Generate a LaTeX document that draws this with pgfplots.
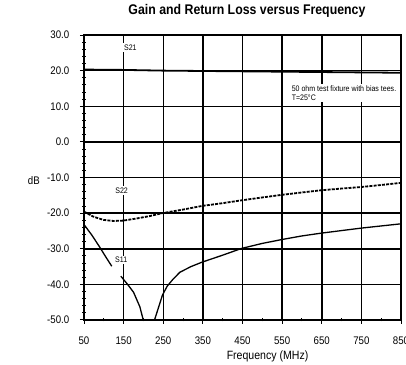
\documentclass[border=0pt]{standalone}
\usepackage{fontspec}
\setmainfont{Liberation Sans}[FakeStretch=0.88]
\usepackage{pgfplots}
\pgfplotsset{compat=1.18}
\begin{document}
\begin{tikzpicture}
\useasboundingbox (0,0) rectangle (406bp,365bp);
\begin{axis}[
 at={(84bp,45bp)}, anchor=south west,
 scale only axis, width=317bp, height=285bp,
 xmin=50, xmax=850, ymin=-50, ymax=30,
 xtick={50,150,...,850}, minor xtick={100,200,...,800},
 xticklabels={50,150,250,350,450,550,650,750,850},
 ytick={-50,-40,...,30},
 yticklabels={-50.0,-40.0,-30.0,-20.0,-10.0,0.0,10.0,20.0,30.0},
 minor y tick num=4,
 tick pos=left,
 tick align=center, major tick length=8bp, minor tick length=3bp,
 every tick/.style={black, line width=1bp},
 axis line style={line width=1.5bp},
 grid=major, major grid style={black, line width=1.5bp},
 tick label style={font=\fontsize{11bp}{13bp}\selectfont},
 xticklabel style={anchor=base, yshift=-20bp},
 yticklabel style={anchor=east, inner sep=0pt, xshift=-10.5bp},
 title={Gain and Return Loss versus Frequency},
 title style={at={(rel axis cs:0.514,1)}, anchor=base, yshift=14.3bp, font=\bfseries\fontsize{14bp}{16bp}\selectfont},
 xlabel={Frequency (MHz)},
 xlabel style={at={(rel axis cs:0.579,0)}, anchor=base, yshift=-39bp, font=\fontsize{12bp}{14bp}\selectfont},
 ylabel={dB},
 every axis y label/.style={at={(rel axis cs:-0.158,0.491)}, anchor=center, font=\fontsize{11bp}{13bp}\selectfont},
]
% S21
\addplot[black, line width=1.8bp] coordinates {
 (50,20.3) (150,20.2) (250,20.0) (350,19.9) (450,19.8) (550,19.7) (650,19.6) (750,19.5) (850,19.4)};
% S22
\addplot[black, line width=1.8bp, dash pattern=on 3bp off 1.2bp] coordinates {
 (50,-19.6) (74,-21.0) (99,-21.9) (124,-22.2) (149,-22.1) (183,-21.5) (217,-20.8) (248,-20.0)
 (300,-19.0) (347,-18.0) (400,-17.2) (448,-16.4) (500,-15.6) (547,-14.9) (600,-14.2) (647,-13.6)
 (700,-13.1) (747,-12.7) (800,-12.1) (850,-11.5)};
% S11 (two segments, gap at label)
\addplot[black, line width=1.3bp] coordinates {
 (50,-23.2) (70,-26.2) (90,-29.6) (105,-32.3) (120,-34.9)};
\addplot[black, line width=1.3bp] coordinates {
 (143,-37.7) (160,-40.0) (175,-42.2) (191,-46.3) (200,-50.2) (214,-58) (228,-50) (238,-46.5)
 (248,-43.0) (260,-40.5) (275,-38.5) (292,-36.6) (320,-35.0) (347,-33.8) (400,-31.8) (448,-29.9)
 (500,-28.5) (550,-27.4) (600,-26.4) (650,-25.6) (700,-24.9) (750,-24.2) (800,-23.6) (850,-23.0)};
\node[fill=white, inner sep=1.5bp, font=\fontsize{8bp}{9.5bp}\selectfont] at (axis cs:167,26.4) {S21};
\node[fill=white, inner sep=1.5bp, font=\fontsize{8bp}{9.5bp}\selectfont] at (axis cs:145,-13.7) {S22};
\node[fill=white, inner sep=1.5bp, font=\fontsize{8bp}{9.5bp}\selectfont] at (axis cs:144,-33.2) {S11};
\node[anchor=north west, fill=white, inner sep=1.5bp, align=left, font=\fontsize{8bp}{9.5bp}\selectfont] at (axis cs:570,16.3) {50 ohm test fixture with bias tees.\\T=25°C};
\end{axis}
\end{tikzpicture}
\end{document}
